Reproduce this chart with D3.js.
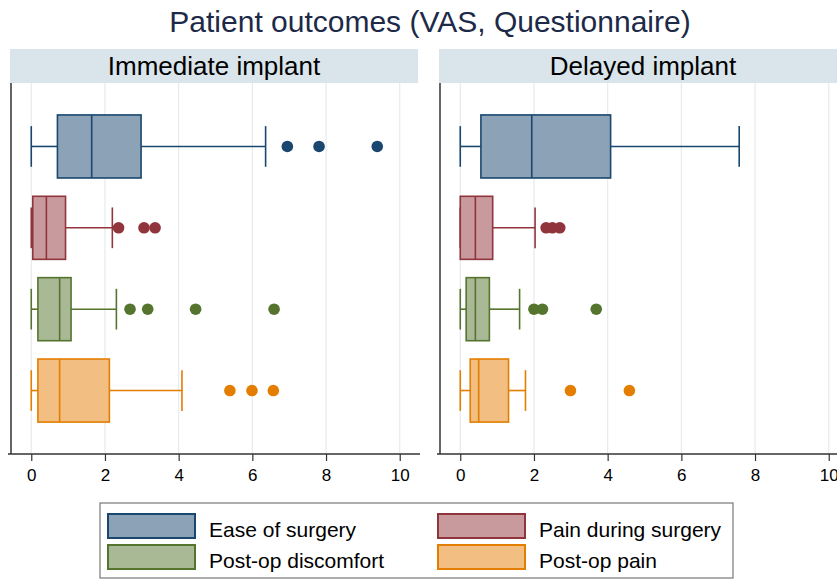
<!DOCTYPE html>
<html>
<head>
<meta charset="utf-8">
<script src="https://cdn.jsdelivr.net/npm/d3@7"></script>
<style>
  body { margin: 0; background: #fff; }
  svg { display: block; font-family: "Liberation Sans", Arial, sans-serif; }
</style>
</head>
<body>
<script>
// data
var title = "Patient outcomes (VAS, Questionnaire)";
var panelNames = ["Immediate implant", "Delayed implant"];
var groups = ["Ease of surgery", "Pain during surgery", "Post-op discomfort", "Post-op pain"];
var xTicks = [0, 2, 4, 6, 8, 10];

// [lower whisker, q1, median, q3, upper whisker]
var immediateStats = [
  [0, 0.71, 1.64, 2.98, 6.36],
  [0, 0.04, 0.41, 0.93, 2.2],
  [0, 0.18, 0.77, 1.08, 2.31],
  [0, 0.18, 0.77, 2.12, 4.09]
];
var immediateOutliers = [
  [6.95, 7.81, 9.39],
  [2.37, 3.06, 3.36],
  [2.68, 3.16, 4.46, 6.59],
  [5.39, 5.99, 6.57]
];
var delayedStats = [
  [0, 0.56, 1.94, 4.08, 7.57],
  [0, 0, 0.41, 0.88, 2.03],
  [0, 0.16, 0.41, 0.79, 1.61],
  [0, 0.27, 0.5, 1.31, 1.77]
];
var delayedOutliers = [
  [],
  [2.33, 2.5, 2.7],
  [2.0, 2.23, 3.69],
  [2.99, 4.59]
];

var lineColors = ["#1a476f", "#90353b", "#55752f", "#e37e00"];
var fillColors = ["#8ca3b7", "#c8999d", "#a9b996", "#f2be82"];

var W = 837, H = 579;
var svg = d3.select("body").append("svg")
    .attr("width", W)
    .attr("height", H);

// title
svg.append("text")
    .attr("x", 430).attr("y", 32)
    .attr("text-anchor", "middle")
    .attr("font-size", "30px")
    .attr("fill", "#1c2a48")
    .text(title);

var plotTop = 83, plotBottom = 454, panelW = 409;
var panelX = [11, 440];

var y = d3.scalePoint()
    .domain(groups)
    .range([plotTop, plotBottom])
    .padding(0.78);
var step = y.step();

var allStats = [immediateStats, delayedStats];
var allOutliers = [immediateOutliers, delayedOutliers];

panelNames.forEach(function(name, p) {
  var x0 = panelX[p];
  var x = d3.scaleLinear().domain([-0.55, 10.55]).range([x0, x0 + panelW]);
  var g = svg.append("g");

  // strip header
  g.append("rect")
      .attr("x", x0 - 1).attr("y", 49)
      .attr("width", panelW - 1).attr("height", 34)
      .attr("fill", "#d9e5eb");
  g.append("text")
      .attr("x", x0 - 1 + (panelW - 1) / 2).attr("y", 75)
      .attr("text-anchor", "middle")
      .attr("font-size", "26px")
      .attr("fill", "#000")
      .text(name);

  // gridlines
  g.selectAll(".grid").data(xTicks).enter().append("line")
      .attr("x1", function(d) { return x(d); })
      .attr("x2", function(d) { return x(d); })
      .attr("y1", plotTop).attr("y2", plotBottom)
      .attr("stroke", "#e6ebee")
      .attr("stroke-width", 1.2);

  // boxes
  var stats = allStats[p];
  groups.forEach(function(grp, i) {
    var s = stats[i], cy = y(grp);
    var bh = step * 0.775, ch = step * 0.5;
    // whiskers
    g.append("line")
        .attr("x1", x(s[0])).attr("x2", x(s[1]))
        .attr("y1", cy).attr("y2", cy)
        .attr("stroke", lineColors[i]).attr("stroke-width", 1.6);
    g.append("line")
        .attr("x1", x(s[3])).attr("x2", x(s[4]))
        .attr("y1", cy).attr("y2", cy)
        .attr("stroke", lineColors[i]).attr("stroke-width", 1.6);
    [s[0], s[4]].forEach(function(v) {
      g.append("line")
          .attr("x1", x(v)).attr("x2", x(v))
          .attr("y1", cy - ch / 2).attr("y2", cy + ch / 2)
          .attr("stroke", lineColors[i]).attr("stroke-width", 1.6);
    });
    g.append("rect")
        .attr("x", x(s[1])).attr("y", cy - bh / 2)
        .attr("width", x(s[3]) - x(s[1])).attr("height", bh)
        .attr("fill", fillColors[i])
        .attr("stroke", lineColors[i]).attr("stroke-width", 1.6);
    g.append("line")
        .attr("x1", x(s[2])).attr("x2", x(s[2]))
        .attr("y1", cy - bh / 2).attr("y2", cy + bh / 2)
        .attr("stroke", lineColors[i]).attr("stroke-width", 1.6);
    g.selectAll(".out" + i).data(allOutliers[p][i]).enter().append("circle")
        .attr("cx", function(d) { return x(d); })
        .attr("cy", cy)
        .attr("r", 5.8)
        .attr("fill", lineColors[i]);
  });

  // axes
  g.append("line")
      .attr("x1", x0).attr("x2", x0)
      .attr("y1", plotTop).attr("y2", plotBottom)
      .attr("stroke", "#333").attr("stroke-width", 1.5);
  var axis = d3.axisBottom(x).tickValues(xTicks).tickSize(7).tickPadding(8);
  var ax = g.append("g")
      .attr("transform", "translate(0," + plotBottom + ")")
      .call(axis);
  ax.select(".domain")
      .attr("d", "M" + (x0 - 3) + ",0H" + (x0 + panelW))
      .attr("stroke", "#333").attr("stroke-width", 1.5);
  ax.selectAll(".tick line").attr("stroke", "#333").attr("stroke-width", 1.2);
  ax.selectAll(".tick text")
      .attr("font-size", "17px")
      .attr("font-family", "Liberation Sans, Arial, sans-serif")
      .attr("fill", "#000");
});

// legend
var leg = svg.append("g");
leg.append("rect")
    .attr("x", 100).attr("y", 503)
    .attr("width", 633).attr("height", 75)
    .attr("fill", "#fff")
    .attr("stroke", "#777").attr("stroke-width", 1.2);
var legX = d3.scaleOrdinal().domain(groups).range([108, 438, 108, 438]);
var legY = d3.scaleOrdinal().domain(groups).range([514, 514, 545, 545]);
groups.forEach(function(grp, i) {
  leg.append("rect")
      .attr("x", legX(grp)).attr("y", legY(grp))
      .attr("width", 87).attr("height", 24)
      .attr("fill", fillColors[i])
      .attr("stroke", lineColors[i]).attr("stroke-width", 2);
  leg.append("text")
      .attr("x", legX(grp) + 101).attr("y", legY(grp) + 23)
      .attr("font-size", "21px")
      .attr("fill", "#000")
      .text(grp);
});
</script>
</body>
</html>
